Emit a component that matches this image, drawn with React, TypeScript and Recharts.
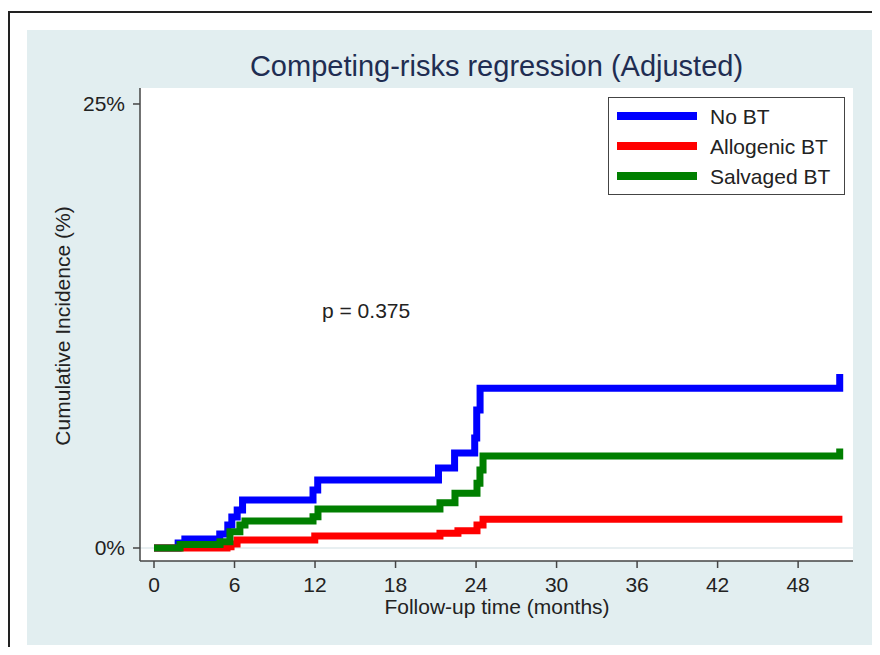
import React from 'react';
import { LineChart, Line, XAxis, YAxis, CartesianGrid, ReferenceLine, Legend, Label } from 'recharts';

const xTicks = [0, 6, 12, 18, 24, 30, 36, 42, 48];
const yTicks = [0, 25];

const seriesNames = ['No BT', 'Allogenic BT', 'Salvaged BT'];
const seriesColors = ['#0000ff', '#ff0000', '#007f00'];

const noBtTime = [0, 1.8, 2.3, 4.9, 5.5, 5.8, 6.2, 6.6, 11.85, 12.2, 21.2, 22.4, 23.9, 24.05, 24.3, 51.1];
const noBtCif = [0, 0.28, 0.51, 0.79, 1.3, 1.75, 2.14, 2.7, 3.27, 3.83, 4.5, 5.35, 6.19, 7.77, 9.0, 9.8];

const alloTime = [0, 5.44, 5.74, 6.19, 11.98, 21.31, 22.65, 24.07, 24.52, 51.3];
const alloCif = [0, 0.07, 0.22, 0.45, 0.68, 0.83, 0.97, 1.29, 1.62, 1.62];

const salvTime = [0, 1.94, 4.92, 5.66, 6.4, 6.78, 11.85, 12.22, 21.31, 22.43, 24.07, 24.29, 24.52, 51.1];
const salvCif = [0, 0.2, 0.35, 0.92, 1.3, 1.52, 1.76, 2.2, 2.55, 3.08, 3.64, 4.39, 5.18, 5.6];

const toRows = (ts: number[], vs: number[]) => ts.map((t, i) => ({ t, v: vs[i] }));
const noBtData = toRows(noBtTime, noBtCif);
const alloData = toRows(alloTime, alloCif);
const salvData = toRows(salvTime, salvCif);

const FONT = '"Liberation Sans", Arial, sans-serif';
const TXT = '#222';

const renderLegend = (props: any) => {
  const payload = [...(props.payload || [])].sort(
    (a: any, b: any) => seriesNames.indexOf(a.value) - seriesNames.indexOf(b.value)
  );
  return (
    <div style={{ width: 237, height: 98, background: '#fff', border: '1.5px solid #444', boxSizing: 'border-box' }}>
      <svg width={234} height={95} style={{ display: 'block' }}>
        {payload.map((p: any, i: number) => (
          <g key={i}>
            <line x1={8} x2={88} y1={18 + i * 30} y2={18 + i * 30} stroke={p.color} strokeWidth={8} />
            <text x={101} y={18 + i * 30} dy="0.36em" fontSize={21} fontFamily={FONT} fill={TXT}>
              {p.value}
            </text>
          </g>
        ))}
      </svg>
    </div>
  );
};

export default function App() {
  return (
    <div style={{ position: 'relative', width: 872, height: 639, overflow: 'hidden', fontFamily: FONT }}>
      <div style={{ position: 'absolute', left: 0, top: 3, width: 872, height: 700, borderLeft: '2px solid #222', borderTop: '2px solid #222', boxSizing: 'border-box' }} />
      <div style={{ position: 'absolute', left: 19, top: 22, width: 846, height: 615, background: '#e2eef0' }} />
      <div style={{ position: 'absolute', left: 0, top: 0 }}>
        <LineChart width={872} height={639} margin={{ top: 80, right: 27, bottom: 56, left: 0 }}>
          <CartesianGrid fill="#ffffff" horizontal={false} vertical={false} />
          <XAxis
            dataKey="t"
            type="number"
            domain={[-1.043, 52.09]}
            ticks={xTicks}
            allowDataOverflow
            height={30}
            tickSize={7}
            tickMargin={9}
            axisLine={{ stroke: '#444', strokeWidth: 1.5 }}
            tickLine={{ stroke: '#444', strokeWidth: 1.5 }}
            tick={{ fontSize: 21, fill: TXT, fontFamily: FONT }}
          >
            <Label
              content={() => (
                <text x={489} y={606} textAnchor="middle" fontSize={21} fontFamily={FONT} fill={TXT}>
                  Follow-up time (months)
                </text>
              )}
            />
          </XAxis>
          <YAxis
            type="number"
            domain={[-0.732, 25.9]}
            ticks={yTicks}
            allowDataOverflow
            width={132}
            tickSize={7}
            tickMargin={8}
            tickFormatter={(v: number) => `${v}%`}
            axisLine={{ stroke: '#444', strokeWidth: 1.5 }}
            tickLine={{ stroke: '#444', strokeWidth: 1.5 }}
            tick={{ fontSize: 21, fill: TXT, fontFamily: FONT }}
          >
            <Label
              content={() => (
                <text x={62} y={318} transform="rotate(-90 62 318)" textAnchor="middle" fontSize={21} fontFamily={FONT} fill={TXT}>
                  Cumulative Incidence (%)
                </text>
              )}
            />
          </YAxis>
          <ReferenceLine y={0} stroke="#e0eaec" strokeWidth={1.5} />
          <Line data={noBtData} dataKey="v" name={seriesNames[0]} type="stepAfter" stroke={seriesColors[0]} strokeWidth={7} dot={false} activeDot={false} isAnimationActive={false} />
          <Line data={alloData} dataKey="v" name={seriesNames[1]} type="stepAfter" stroke={seriesColors[1]} strokeWidth={7} dot={false} activeDot={false} isAnimationActive={false} />
          <Line data={salvData} dataKey="v" name={seriesNames[2]} type="stepAfter" stroke={seriesColors[2]} strokeWidth={7} dot={false} activeDot={false} isAnimationActive={false} />
          <Legend
            layout="vertical"
            align="center"
            verticalAlign="middle"
            content={renderLegend}
            wrapperStyle={{ position: 'absolute', left: 600, top: 89, width: 237, height: 98 }}
          />
        </LineChart>
      </div>
      <div style={{ position: 'absolute', left: 0, width: 977, top: 43.5, textAlign: 'center', fontSize: 29, lineHeight: '29px', color: '#1f2d52', whiteSpace: 'nowrap' }}>
        Competing-risks regression (Adjusted)
      </div>
      <div style={{ position: 'absolute', left: 314, top: 292, fontSize: 21, lineHeight: '21px', color: TXT, whiteSpace: 'nowrap' }}>
        p = 0.375
      </div>
    </div>
  );
}
